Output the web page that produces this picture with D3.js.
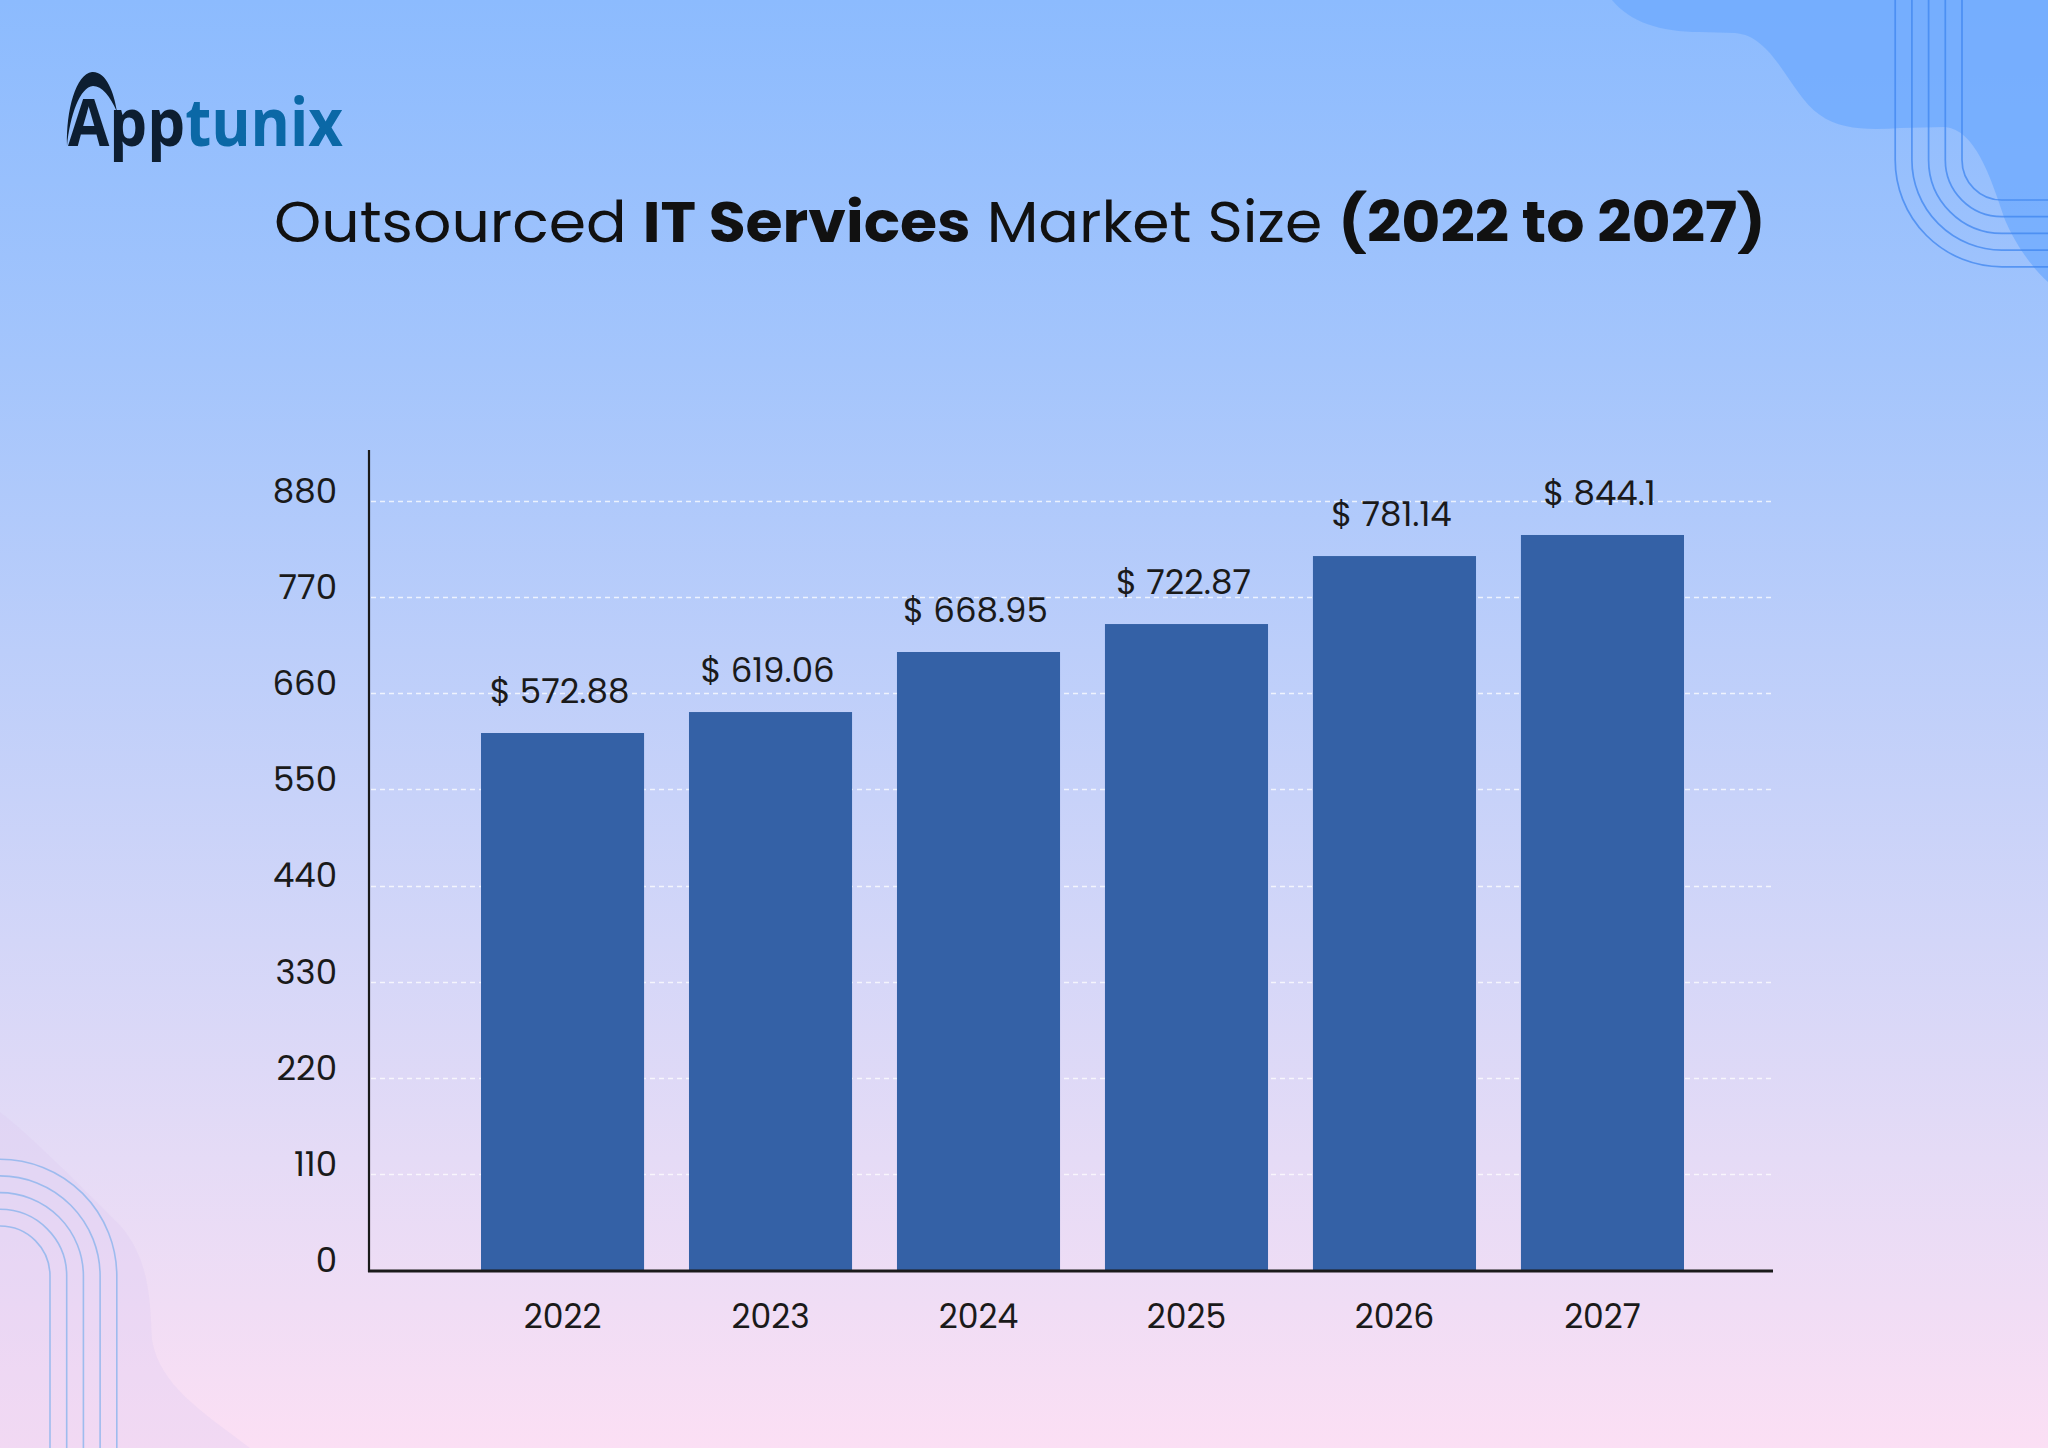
<!DOCTYPE html>
<html><head><meta charset="utf-8">
<script src="https://cdn.jsdelivr.net/npm/d3@7"></script>
<style>html,body{margin:0;padding:0;overflow:hidden;background:#fff}svg{display:block}</style>
</head><body>
<script>
// ---- data ----
const years = ["2022", "2023", "2024", "2025", "2026", "2027"];
const barValues = [614.5, 638.5, 707.2, 739.2, 817.0, 841.1];      // bar heights as drawn in the picture
const labelValues = [572.88, 619.06, 668.95, 722.87, 781.14, 844.1]; // printed value labels
const yTicks = [0, 110, 220, 330, 440, 550, 660, 770, 880];
const titleParts = [
  { text: "Outsourced ", bold: false },
  { text: "IT Services", bold: true },
  { text: " Market Size ", bold: false },
  { text: "(2022 to 2027)", bold: true }
];

const W = 2048, H = 1448;
const FONT = "Poppins, Inter, 'Open Sans', sans-serif";
const svg = d3.select("body").append("svg").attr("width", W).attr("height", H);
const defs = svg.append("defs");

// background gradient
const bg = defs.append("linearGradient").attr("id", "bg").attr("x1", 0).attr("y1", 0).attr("x2", 0).attr("y2", 1);
[[0, "#8cbbfe"], [0.25, "#a4c5fc"], [0.45, "#bccefa"], [0.65, "#d3d6f8"], [0.8, "#e5dbf6"], [1, "#fbdff4"]]
  .forEach(([o, c]) => bg.append("stop").attr("offset", o).attr("stop-color", c));
svg.append("rect").attr("width", W).attr("height", H).attr("fill", "url(#bg)");

// top-right blob
svg.append("path")
  .attr("d", "M1612,0 C1630,22 1660,32 1700,32 L1735,33 C1775,36 1790,95 1820,115 C1840,130 1870,130 1900,128 L1945,127 C1975,130 1990,175 2005,220 C2018,250 2035,270 2048,282 L2048,0 Z")
  .attr("fill", "#6ea9fd").attr("opacity", 0.75);
// top-right concentric rounded lines
const trg = svg.append("g").attr("fill", "none").attr("stroke", "#3f86f0").attr("stroke-width", 1.7).attr("opacity", 0.75);
[0, 1, 2, 3, 4].forEach(i => {
  const x = 1962 - i * 16.7, y = 200 + i * 16.7, r = 40 + i * 16.7;
  trg.append("path").attr("d", `M${x},0 L${x},${y - r} A${r},${r} 0 0 0 ${x + r},${y} L2048,${y}`);
});
// bottom-left faint blob
svg.append("path")
  .attr("d", "M0,1112 C30,1135 80,1185 120,1225 C150,1260 150,1300 152,1340 C160,1385 200,1410 250,1448 L0,1448 Z")
  .attr("fill", "#dcc8f2").attr("opacity", 0.28);
// bottom-left concentric arcs
const blg = svg.append("g").attr("fill", "none").attr("stroke", "#96b9ee").attr("stroke-width", 1.6).attr("opacity", 0.9);
[0, 1, 2, 3, 4].forEach(i => {
  const r = 50 + i * 16.7, cy = 1276;
  blg.append("path").attr("d", `M0,${cy - r} A${r},${r} 0 0 1 ${r},${cy} L${r},${H}`);
});

// logo
const logo = svg.append("g");
logo.append("path")
  .attr("d", "M67,146 C66,110 76,74 92,72 C106,71 114,92 117,112 C110,96 102,86 93,86 C80,87 70,115 67,146 Z")
  .attr("fill", "#0d1e31");
const logoText = logo.append("text").attr("x", 68).attr("y", 146)
  .attr("font-family", "'Open Sans', Inter, sans-serif").attr("font-weight", 700).attr("font-size", 66);
logoText.append("tspan").attr("fill", "#0d1e31").text("App");
logoText.append("tspan").attr("fill", "#0b68a6").text("tunix");
{
  const w = logoText.node().getComputedTextLength();
  logoText.attr("transform", `translate(68,0) scale(${275 / w},1) translate(-68,0)`);
}

// title
const title = svg.append("text").attr("x", 274).attr("y", 242)
  .attr("font-family", FONT).attr("font-size", 57).attr("fill", "#111");
title.selectAll("tspan").data(titleParts).join("tspan")
  .attr("font-weight", d => d.bold ? 700 : 400).text(d => d.text);
{
  const w = title.node().getComputedTextLength();
  title.attr("transform", `translate(274,0) scale(${1492 / w},1) translate(-274,0)`);
}

// scales
const x = d3.scaleBand().domain(years).range([481, 1684]).paddingInner(0.216).paddingOuter(0);
const y = d3.scaleLinear().domain([0, 880]).range([1270, 501]);

// gridlines
svg.append("g").selectAll("line").data(yTicks.filter(t => t > 0)).join("line")
  .attr("x1", 371).attr("x2", 1773)
  .attr("y1", d => Math.round(y(d)) + 0.5).attr("y2", d => Math.round(y(d)) + 0.5)
  .attr("stroke", "#ffffff").attr("stroke-opacity", 0.75).attr("stroke-width", 1.6)
  .attr("stroke-dasharray", "5,4");

// y tick labels via axis
const yAxis = d3.axisLeft(y).tickValues(yTicks).tickSize(0).tickPadding(0).tickFormat(d3.format("d"));
const yg = svg.append("g").attr("transform", "translate(337,0)").call(yAxis);
yg.select(".domain").remove();
yg.selectAll("text").attr("font-family", FONT).attr("font-size", 34).attr("fill", "#1a1a1a")
  .attr("dy", "0.04em").attr("text-anchor", "end");

// bars
svg.append("g").selectAll("rect").data(years).join("rect")
  .attr("x", d => x(d)).attr("width", x.bandwidth())
  .attr("y", (d, i) => y(barValues[i])).attr("height", (d, i) => y(0) - y(barValues[i]) + 1)
  .attr("fill", "#3461a6");

// value labels
svg.append("g").selectAll("text").data(years).join("text")
  .attr("x", d => x(d) + x.bandwidth() / 2 - 3)
  .attr("y", (d, i) => y(barValues[i]) - 30)
  .attr("text-anchor", "middle").attr("font-family", FONT).attr("font-size", 34).attr("fill", "#1a1a1a")
  .text((d, i) => "$ " + labelValues[i]);

// axes lines
svg.append("line").attr("x1", 369).attr("x2", 369).attr("y1", 450).attr("y2", 1272)
  .attr("stroke", "#1a1a1a").attr("stroke-width", 2.2);
svg.append("line").attr("x1", 368).attr("x2", 1773).attr("y1", 1271).attr("y2", 1271)
  .attr("stroke", "#1a1a1a").attr("stroke-width", 3.2);

// x labels via axis
const xAxis = d3.axisBottom(x).tickSize(0).tickPadding(0);
const xg = svg.append("g").attr("transform", "translate(0,1328)").call(xAxis);
xg.select(".domain").remove();
xg.selectAll("text").attr("font-family", FONT).attr("font-size", 33).attr("fill", "#1a1a1a")
  .attr("dy", "0").attr("y", 0);
</script>
</body></html>
